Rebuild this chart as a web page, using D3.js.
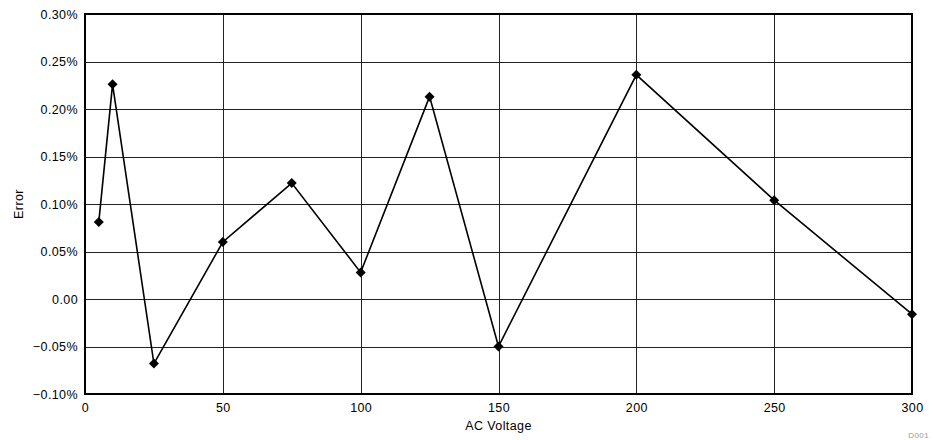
<!DOCTYPE html>
<html>
<head>
<meta charset="utf-8">
<script src="https://cdn.jsdelivr.net/npm/d3@7"></script>
<style>
  body { margin: 0; background: #fff; }
  text { font-family: "Liberation Sans", Arial, sans-serif; letter-spacing: 0.4px; }
</style>
</head>
<body>
<div id="chart"></div>
<script>
// AC voltage (x) and measured error in percent (y)
var voltage = [5, 10, 25, 50, 75, 100, 125, 150, 200, 250, 300];
var errorPct = [0.081, 0.226, -0.068, 0.060, 0.122, 0.028, 0.213, -0.050, 0.236, 0.104, -0.016];

var xTicks = [0, 50, 100, 150, 200, 250, 300];
var yTicks = [-0.10, -0.05, 0.00, 0.05, 0.10, 0.15, 0.20, 0.25, 0.30];

var margin = {top: 14, bottom: 46, left: 85, right: 21},
  width = 933 - margin.left - margin.right,
  height = 440 - margin.top - margin.bottom;

var svg = d3.select("#chart")
    .append("svg")
    .attr("width", 933)
    .attr("height", 440);

var chart = svg.append("g")
    .attr("transform", "translate(" + margin.left + "," + margin.top + ")");

var x = d3.scaleLinear()
    .range([0, width])
    .domain([0, 300]);

var y = d3.scaleLinear()
    .range([height, 0])
    .domain([-0.10, 0.30]);

// grid lines
chart.append("g")
    .selectAll("line")
    .data(yTicks)
    .enter().append("line")
    .attr("x1", 0).attr("x2", width)
    .attr("y1", function(d) { return Math.round(y(d)) + 0.5; })
    .attr("y2", function(d) { return Math.round(y(d)) + 0.5; })
    .attr("stroke", "#222")
    .attr("stroke-width", 1);

chart.append("g")
    .selectAll("line")
    .data(xTicks)
    .enter().append("line")
    .attr("y1", 0).attr("y2", height)
    .attr("x1", function(d) { return Math.round(x(d)) + 0.5; })
    .attr("x2", function(d) { return Math.round(x(d)) + 0.5; })
    .attr("stroke", "#222")
    .attr("stroke-width", 1);

// axes (labels only)
var yAxis = d3.axisLeft(y)
    .tickValues(yTicks)
    .tickSize(0)
    .tickPadding(7)
    .tickFormat(function(d) { return Math.abs(d) < 1e-9 ? "0.00" : d3.format(".2f")(d) + "%"; });
chart.append("g")
    .attr("class", "y axis")
    .call(yAxis)
    .call(function(g) { g.select(".domain").remove(); })
    .selectAll("text")
    .attr("font-size", 12.5)
    .attr("fill", "#000");

var xAxis = d3.axisBottom(x)
    .tickValues(xTicks)
    .tickSize(0)
    .tickPadding(9)
    .tickFormat(d3.format("d"));
chart.append("g")
    .attr("class", "x axis")
    .attr("transform", "translate(0," + height + ")")
    .call(xAxis)
    .call(function(g) { g.select(".domain").remove(); })
    .selectAll("text")
    .attr("font-size", 12.5)
    .attr("fill", "#000");

// frame
chart.append("rect")
    .attr("x", 0).attr("y", 0)
    .attr("width", width).attr("height", height)
    .attr("fill", "none")
    .attr("stroke", "#000")
    .attr("stroke-width", 2);

// data line
var pts = voltage.map(function(v, i) { return [v, errorPct[i]]; });
var line = d3.line()
    .x(function(d) { return x(d[0]); })
    .y(function(d) { return y(d[1]); });

chart.append("path")
    .datum(pts)
    .attr("d", line)
    .attr("fill", "none")
    .attr("stroke", "#000")
    .attr("stroke-width", 1.6);

// diamond markers: rotated squares
chart.append("g")
    .selectAll("path")
    .data(pts)
    .enter().append("path")
    .attr("d", d3.symbol().type(d3.symbolSquare).size(50))
    .attr("transform", function(d) { return "translate(" + x(d[0]) + "," + y(d[1]) + ") rotate(45)"; })
    .attr("fill", "#000");

// axis titles
svg.append("text")
    .attr("x", margin.left + width / 2)
    .attr("y", 430)
    .attr("text-anchor", "middle")
    .attr("font-size", 12.5)
    .text("AC Voltage");

svg.append("text")
    .attr("transform", "translate(23," + (margin.top + height / 2) + ") rotate(-90)")
    .attr("text-anchor", "middle")
    .attr("font-size", 12.5)
    .text("Error");

svg.append("text")
    .attr("x", 929)
    .attr("y", 438)
    .attr("text-anchor", "end")
    .attr("font-size", 8)
    .attr("fill", "#999")
    .text("D001");
</script>
</body>
</html>
